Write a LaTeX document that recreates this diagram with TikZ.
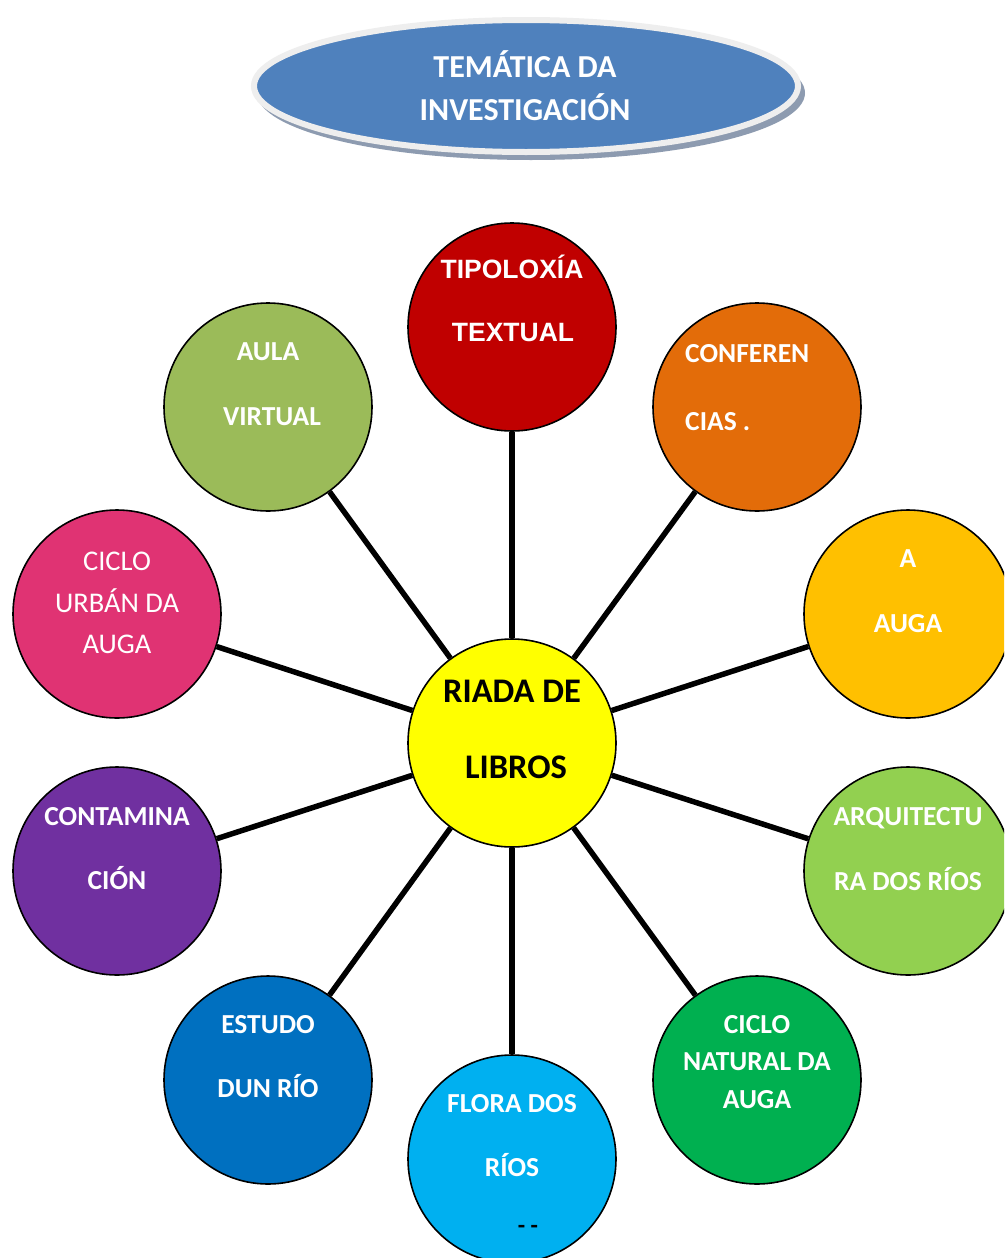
\documentclass[tikz,border=0pt]{standalone}
\usepackage{fontspec}
\usetikzlibrary{shapes.geometric}
\setmainfont{Carlito}
\newfontfamily\arialfont{Liberation Sans}
\definecolor{cRed}{HTML}{C00000}
\definecolor{cOrange}{HTML}{E36C09}
\definecolor{cGold}{HTML}{FFC000}
\definecolor{cLime}{HTML}{92D050}
\definecolor{cGreen}{HTML}{00B050}
\definecolor{cSky}{HTML}{00B0F0}
\definecolor{cBlue}{HTML}{0070C0}
\definecolor{cPurple}{HTML}{7030A0}
\definecolor{cPink}{HTML}{E03373}
\definecolor{cOlive}{HTML}{9BBB59}
\definecolor{cYellow}{HTML}{FFFF00}
\definecolor{cTitle}{HTML}{4F81BD}
\definecolor{cRing}{HTML}{EEEEEE}
\definecolor{cShadow}{HTML}{8D9BB0}
\begin{document}
\begin{tikzpicture}[x=1pt,y=-1pt,
  bub/.style={circle,draw=black,line width=1.6pt,minimum size=208pt,inner sep=0pt},
  lab/.style={text=white,font=\fontsize{27.5}{27.5}\selectfont\bfseries,inner sep=0pt,text height=18pt,text depth=0pt,anchor=center},
  labl/.style={lab,anchor=west},
  labreg/.style={text=white,font=\fontsize{28.5}{28.5}\selectfont,inner sep=0pt,text height=18pt,text depth=0pt,anchor=center},
  laba/.style={text=white,font=\arialfont\fontsize{26.5}{26.5}\selectfont\bfseries,inner sep=0pt,text height=19pt,text depth=0pt,anchor=center},
  labc/.style={text=black,font=\fontsize{34.5}{34.5}\selectfont\bfseries,inner sep=0pt,text height=21pt,text depth=0pt,anchor=center},
  labt/.style={text=white,font=\fontsize{32}{32}\selectfont\bfseries,inner sep=0pt,text height=20pt,text depth=0pt,anchor=center},
  link/.style={line width=5.5pt,draw=black}]
\useasboundingbox (0,0) rectangle (1004,1258);
\clip (0,0) rectangle (1004,1258);
\fill[white] (0,0) rectangle (1004,1258);

% title ellipse
\fill[cShadow] (531,93) ellipse [x radius=274, y radius=67];
\node[ellipse,minimum width=544pt,minimum height=132pt,fill=cTitle,draw=cRing,line width=6pt,inner sep=0pt] (title) at (526,86) {};
\node[labt] (title1) at (525,67) {TEMÁTICA DA};
\node[labt] (title2) at (525,110) {INVESTIGACIÓN};

% circles
\node[bub,fill=cYellow] (c) at (512,743) {};
\node[bub,fill=cRed] (n1) at (512,327) {};
\node[bub,fill=cOrange] (n2) at (757,407) {};
\node[bub,fill=cGold] (n3) at (908,614) {};
\node[bub,fill=cLime] (n4) at (908,871) {};
\node[bub,fill=cGreen] (n5) at (757,1080) {};
\node[bub,fill=cSky] (n6) at (512,1159) {};
\node[bub,fill=cBlue] (n7) at (268,1080) {};
\node[bub,fill=cPurple] (n8) at (117,871) {};
\node[bub,fill=cPink] (n9) at (117,614) {};
\node[bub,fill=cOlive] (n10) at (268,407) {};

% connectors
\foreach \n in {n1,n2,n3,n4,n5,n6,n7,n8,n9,n10}
  \draw[link] (c) -- (\n);

% labels
\node[labc] (c1) at (512,692) {RIADA DE};
\node[labc] (c2) at (516,768) {LIBROS};
\node[laba] (n1a) at (512,269) {TIPOLOXÍA};
\node[laba] (n1b) at (513,332) {TEXTUAL};
\node[labl] (n2a) at (685,353) {CONFEREN};
\node[labl] (n2b) at (685,421) {CIAS .};
\node[lab] (n3a) at (908,558) {A};
\node[lab] (n3b) at (908,623) {AUGA};
\node[lab] (n4a) at (908,816) {ARQUITECTU};
\node[lab] (n4b) at (908,881) {RA DOS RÍOS};
\node[lab] (n5a) at (757,1024) {CICLO};
\node[lab] (n5b) at (757,1061) {NATURAL DA};
\node[lab] (n5c) at (757,1099) {AUGA};
\node[lab] (n6a) at (512,1103) {FLORA DOS};
\node[lab] (n6b) at (512,1167) {RÍOS};
\node[text=black,font=\fontsize{24}{24}\selectfont\bfseries,inner sep=0pt] (n6c) at (528,1229) {-{} -};
\node[lab] (n7a) at (268,1024) {ESTUDO};
\node[lab] (n7b) at (268,1088) {DUN RÍO};
\node[lab] (n8a) at (117,816) {CONTAMINA};
\node[lab] (n8b) at (117,880) {CIÓN};
\node[labreg] (n9a) at (117,561) {CICLO};
\node[labreg] (n9b) at (117,603) {URBÁN DA};
\node[labreg] (n9c) at (117,644) {AUGA};
\node[lab] (n10a) at (268,351) {AULA};
\node[lab] (n10b) at (272,416) {VIRTUAL};
\end{tikzpicture}
\end{document}
